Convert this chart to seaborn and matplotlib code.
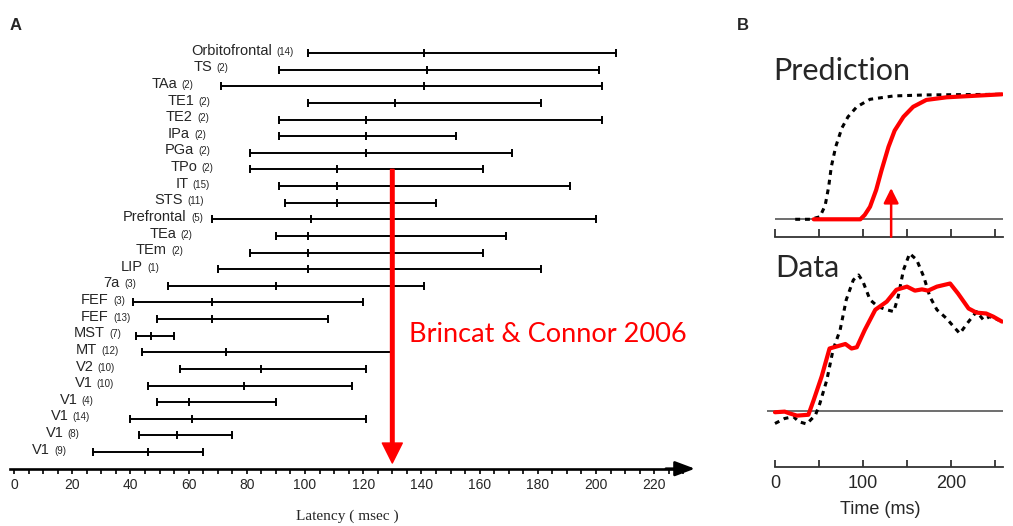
import matplotlib
matplotlib.use("Agg")
import matplotlib.pyplot as plt
import seaborn as sns
import pandas as pd
import numpy as np

# ---- panel A: latency ranges per area (ms) ----
areas = ["Orbitofrontal", "TS", "TAa", "TE1", "TE2", "IPa", "PGa", "TPo", "IT", "STS",
         "Prefrontal", "TEa", "TEm", "LIP", "7a", "FEF", "FEF", "MST", "MT", "V2",
         "V1", "V1", "V1", "V1", "V1"]
counts = [14, 2, 2, 2, 2, 2, 2, 2, 15, 11, 5, 2, 2, 1, 3, 3, 13, 7, 12, 10, 10, 4, 14, 8, 9]
lat_min = [101, 91, 71, 101, 91, 91, 81, 81, 91, 93, 68, 90, 81, 70, 53, 41, 49, 42, 44, 57,
           46, 49, 40, 43, 27]
lat_mid = [141, 142, 141, 131, 121, 121, 121, 111, 111, 111, 102, 101, 101, 101, 90, 68, 68,
           47, 73, 85, 79, 60, 61, 56, 46]
lat_max = [207, 201, 202, 181, 202, 152, 171, 161, 191, 145, 200, 169, 161, 181, 141, 120,
           108, 55, 130, 121, 116, 90, 121, 75, 65]
brincat_latency = 130
brincat_row = 7

# where each area name ends (layout, ms units)
label_at = [88.7, 68, 56, 62, 61.5, 60.5, 62, 63, 60, 58, 59.4, 55.7, 52.5, 44.3, 36.4,
            32.6, 32.6, 31.3, 28.5, 27.3, 27, 21.8, 18.7, 17, 12.4]

# ---- panel B: prediction ----
pred_dash_t = [23, 40, 51, 57, 61, 64, 69, 76, 83, 93, 108, 135, 172, 258]
pred_dash_v = [0, 0, 0.02, 0.11, 0.26, 0.42, 0.58, 0.73, 0.82, 0.90, 0.96, 0.987, 0.995, 1.0]
pred_red_t = [44, 97, 102, 108, 115, 121, 129, 136, 146, 157, 172, 195, 258]
pred_red_v = [0, 0, 0.035, 0.10, 0.235, 0.39, 0.58, 0.71, 0.82, 0.90, 0.955, 0.976, 1.0]
pred_arrow_t = 132

# ---- panel B: data ----
data_red_t = [0, 11, 17, 25, 38, 44, 53, 62, 72, 80, 87, 93, 102, 114, 127, 138, 150, 159,
              167, 174, 184, 199, 208, 220, 229, 240, 248, 258]
data_red_v = [-0.01, -0.005, -0.02, -0.037, -0.03, 0.088, 0.275, 0.50, 0.52, 0.536, 0.50,
              0.51, 0.648, 0.81, 0.875, 0.97, 0.995, 0.963, 0.973, 0.963, 0.995, 1.02, 0.94,
              0.82, 0.787, 0.78, 0.755, 0.715]
data_dash_t = [0, 11, 21, 27, 36, 46, 51, 59, 66, 74, 81, 89, 95, 100, 108, 117, 127, 135,
               140, 146, 153, 161, 169, 176, 184, 195, 203, 210, 220, 229, 237, 244, 254]
data_dash_v = [-0.1, -0.06, -0.045, -0.085, -0.104, -0.032, 0.06, 0.25, 0.49, 0.648, 0.89,
               1.048, 1.088, 1.035, 0.89, 0.835, 0.81, 0.795, 0.915, 1.128, 1.26, 1.21, 1.075,
               0.915, 0.81, 0.74, 0.675, 0.62, 0.715, 0.795, 0.728, 0.755, 0.728]

sns.set_style("white")
plt.rcParams["font.family"] = ["Liberation Sans", "DejaVu Sans"]

W, H = 1013, 526
fig = plt.figure(figsize=(W / 100, H / 100), dpi=100)


def px_axes(left, top, right, bottom):
    return fig.add_axes([left / W, 1 - bottom / H, (right - left) / W, (bottom - top) / H])


# ================= panel A =================
axA = px_axes(5.27, 5, 697.85, 480)
rows = np.arange(len(areas))

bars = pd.DataFrame({"row": np.repeat(rows, 2),
                     "latency": np.ravel(np.column_stack([lat_min, lat_max]))})
sns.lineplot(data=bars, x="latency", y="row", units="row", estimator=None, sort=False,
             color="black", lw=1.4, ax=axA, legend=False)

ticks = pd.DataFrame({"row": np.tile(rows, 3), "latency": lat_min + lat_mid + lat_max})
sns.scatterplot(data=ticks, x="latency", y="row", marker="|", s=40, color="black",
                linewidth=1.4, ax=axA, legend=False, zorder=3)

for r in rows:
    axA.text(label_at[r], r + 0.1, areas[r], ha="right", va="baseline", fontsize=10.5)
    axA.annotate(f"({counts[r]})", xy=(label_at[r], r + 0.1), xytext=(3, 0),
                 textcoords="offset points", ha="left", va="baseline", fontsize=7)

axA.set_xlim(-3, 235)
axA.set_ylim(25.68, -2.887)
for s in ["top", "right", "left"]:
    axA.spines[s].set_visible(False)
axA.spines["bottom"].set_position(("data", 25.0))
axA.spines["bottom"].set_bounds(-1.5, 229)
axA.spines["bottom"].set_linewidth(1.9)
axA.spines["bottom"].set_color("black")
axA.set_xticks(np.arange(0, 221, 20))
axA.set_xticks(np.arange(0, 231, 5), minor=True)
axA.tick_params(axis="x", which="both", direction="out", length=3.8, width=1.2,
                color="black", bottom=True, pad=3, labelsize=10)
axA.set_yticks([])
axA.set_xlabel("")
axA.set_ylabel("")
axA.annotate("", xy=(234, 25.0), xytext=(224, 25.0),
             arrowprops=dict(arrowstyle="-|>,head_length=0.8,head_width=0.3", color="black",
                             lw=1.9, mutation_scale=15, shrinkA=0, shrinkB=0))

axA.annotate("", xy=(brincat_latency, 24.66), xytext=(brincat_latency, brincat_row),
             arrowprops=dict(arrowstyle="simple,head_length=0.9,head_width=0.9,tail_width=0.16",
                             color="#ff0000", mutation_scale=16, shrinkA=0, shrinkB=0),
             zorder=10)

fig.text(409 / W, 1 - 342 / H, "Brincat & Connor 2006", color="#ff0000", fontsize=19.5,
         family=["Lato", "DejaVu Sans"], ha="left", va="baseline")
fig.text(347 / W, 1 - 516 / H, "Latency ( msec )", fontsize=11,
         family=["Liberation Serif", "DejaVu Serif"], ha="center", va="center")
fig.text(10 / W, 1 - 26 / H, "A", fontsize=12, fontweight="bold", ha="left", va="center")
fig.text(737 / W, 1 - 26 / H, "B", fontsize=12, fontweight="bold", ha="left", va="center")


# ================= panel B =================
def style_time_axis(ax, spine_v, tick_len, labels):
    for s in ["top", "right", "left"]:
        ax.spines[s].set_visible(False)
    ax.spines["bottom"].set_position(("data", spine_v))
    ax.spines["bottom"].set_bounds(0, 259)
    ax.spines["bottom"].set_color("#333333")
    ax.spines["bottom"].set_linewidth(1.3)
    ax.set_xticks([0, 100, 200])
    ax.set_xticks([50, 150, 250], minor=True)
    ax.tick_params(axis="x", which="both", direction="in", length=tick_len, width=1.3,
                   color="#333333", bottom=True, pad=6, labelsize=13,
                   labelbottom=labels)
    ax.set_yticks([])
    ax.set_xlabel("")
    ax.set_ylabel("")
    ax.set_xlim(-11, 259)


axP = px_axes(765.3, 88.05, 1002.9, 239.3)
axP.set_ylim(-0.16, 1.05)
axP.hlines(0, 0, 259, color="#555555", lw=1.2)
sns.lineplot(x=pred_dash_t, y=pred_dash_v, color="black", lw=2.2, ax=axP,
             linestyle=(0, (1.6, 1.6)))
sns.lineplot(x=pred_red_t, y=pred_red_v, color="#ff0000", lw=3.0, ax=axP)
axP.annotate("", xy=(pred_arrow_t, 0.25), xytext=(pred_arrow_t, -0.139),
             arrowprops=dict(arrowstyle="-|>,head_length=0.6,head_width=0.3", color="#ff0000",
                             lw=1.8, mutation_scale=15, shrinkA=0, shrinkB=0))
style_time_axis(axP, -0.139, 6, False)

axD = px_axes(765.3, 248.5, 1002.9, 471)
axD.set_ylim(-0.48, 1.30)
axD.hlines(0, -9.5, 259, color="#555555", lw=1.2)
sns.lineplot(x=data_dash_t, y=data_dash_v, color="black", lw=2.2, ax=axD,
             linestyle=(0, (1.6, 1.6)))
sns.lineplot(x=data_red_t, y=data_red_v, color="#ff0000", lw=3.0, ax=axD)
style_time_axis(axD, -0.446, 5, True)

fig.text(773 / W, 1 - 80 / H, "Prediction", fontsize=22, family=["Lato", "DejaVu Sans"],
         ha="left", va="baseline")
fig.text(775 / W, 1 - 277 / H, "Data", fontsize=22, family=["Lato", "DejaVu Sans"],
         ha="left", va="baseline")
fig.text(880 / W, 1 - 509 / H, "Time (ms)", fontsize=13, ha="center", va="center")

fig.savefig("out.png", dpi=100)
